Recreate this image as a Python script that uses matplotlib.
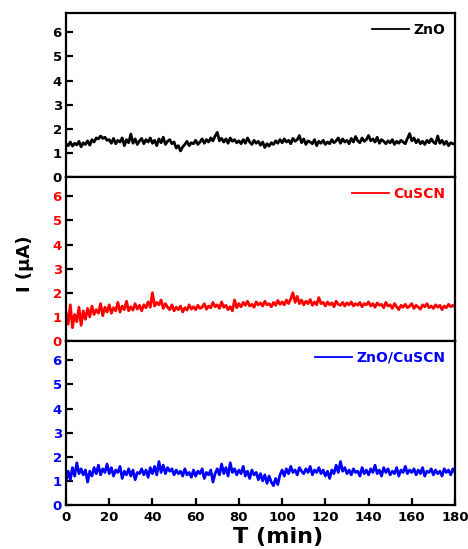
import numpy as np
import matplotlib
matplotlib.use("Agg")
import matplotlib.pyplot as plt

t_min = list(range(0, 181))

zno = [1.38, 1.30, 1.45, 1.28, 1.40, 1.33, 1.48, 1.25, 1.42, 1.35,
       1.50, 1.32, 1.55, 1.45, 1.62, 1.58, 1.70, 1.60, 1.65, 1.52,
       1.55, 1.40, 1.60, 1.38, 1.52, 1.45, 1.62, 1.30, 1.55, 1.42,
       1.78, 1.40, 1.58, 1.35, 1.50, 1.60, 1.38, 1.55, 1.45, 1.62,
       1.40, 1.52, 1.30, 1.58, 1.42, 1.65, 1.35, 1.48, 1.55, 1.38,
       1.45, 1.20, 1.30, 1.08, 1.25, 1.35, 1.48, 1.30, 1.42, 1.38,
       1.52, 1.35, 1.45, 1.58, 1.40, 1.55, 1.45, 1.62, 1.50, 1.70,
       1.85, 1.50, 1.60, 1.45, 1.58, 1.40, 1.62, 1.48, 1.55, 1.42,
       1.50, 1.38, 1.55, 1.40, 1.62, 1.45, 1.35, 1.52, 1.40, 1.48,
       1.32, 1.45, 1.22, 1.38, 1.28, 1.42, 1.35, 1.50, 1.40, 1.55,
       1.42, 1.58, 1.45, 1.52, 1.38, 1.60, 1.48, 1.55, 1.72, 1.42,
       1.58, 1.35, 1.50, 1.45, 1.38, 1.55, 1.30, 1.48, 1.40, 1.52,
       1.35, 1.45, 1.38, 1.55, 1.42, 1.50, 1.62, 1.40, 1.58, 1.45,
       1.52, 1.38, 1.60, 1.45, 1.68, 1.50, 1.42, 1.62, 1.48, 1.55,
       1.72, 1.50, 1.58, 1.45, 1.65, 1.40, 1.55, 1.48, 1.38, 1.50,
       1.42, 1.55, 1.35, 1.48, 1.40, 1.52, 1.45, 1.38, 1.60, 1.80,
       1.50, 1.62, 1.42, 1.55, 1.38, 1.48, 1.35, 1.52, 1.42, 1.58,
       1.45, 1.38, 1.70, 1.40, 1.52, 1.35, 1.48, 1.30, 1.42, 1.38,
       1.35]

cuscn = [1.20, 0.70, 1.50, 0.55, 1.10, 0.80, 1.40, 0.65, 1.25, 0.90,
         1.35, 1.00, 1.45, 1.10, 1.30, 1.15, 1.55, 1.05, 1.40, 1.20,
         1.50, 1.15, 1.38, 1.25, 1.60, 1.20, 1.45, 1.30, 1.65, 1.25,
         1.42, 1.28, 1.55, 1.32, 1.48, 1.25, 1.50, 1.38, 1.62, 1.40,
         2.00, 1.45, 1.60, 1.50, 1.70, 1.35, 1.55, 1.40, 1.30, 1.50,
         1.25, 1.40, 1.30, 1.45, 1.20, 1.38, 1.28, 1.50, 1.32, 1.42,
         1.30, 1.48, 1.35, 1.40, 1.55, 1.32, 1.45, 1.38, 1.60, 1.42,
         1.50, 1.35, 1.62, 1.40, 1.48, 1.30, 1.42, 1.25, 1.70, 1.38,
         1.55, 1.42, 1.60, 1.48, 1.65, 1.45, 1.52, 1.40, 1.62, 1.50,
         1.58, 1.45, 1.65, 1.50, 1.55, 1.42, 1.60, 1.48, 1.68, 1.52,
         1.62, 1.50, 1.70, 1.55, 1.75, 2.00, 1.60, 1.85, 1.55, 1.70,
         1.50, 1.65, 1.55, 1.72, 1.48, 1.62, 1.50, 1.80, 1.55, 1.60,
         1.45, 1.62, 1.50, 1.58, 1.42, 1.65, 1.52, 1.48, 1.60, 1.45,
         1.58, 1.50, 1.62, 1.45, 1.55, 1.48, 1.60, 1.42, 1.55, 1.50,
         1.62, 1.45, 1.55, 1.40, 1.58, 1.48, 1.52, 1.38, 1.60, 1.45,
         1.50, 1.35, 1.55, 1.42, 1.30, 1.48, 1.40, 1.52, 1.38, 1.45,
         1.55, 1.35, 1.48, 1.40, 1.32, 1.50, 1.42, 1.55, 1.38, 1.45,
         1.35, 1.50, 1.40, 1.48, 1.30, 1.45, 1.38, 1.52, 1.42, 1.48,
         1.40]

zno_cuscn = [1.00, 1.40, 1.05, 1.55, 1.20, 1.75, 1.30, 1.50, 1.25, 1.45,
             0.95, 1.40, 1.20, 1.55, 1.30, 1.65, 1.25, 1.50, 1.35, 1.70,
             1.30, 1.55, 1.20, 1.45, 1.35, 1.60, 1.10, 1.40, 1.25, 1.50,
             1.20, 1.45, 1.05, 1.35, 1.30, 1.50, 1.25, 1.45, 1.15, 1.55,
             1.30, 1.60, 1.25, 1.80, 1.35, 1.65, 1.30, 1.55, 1.40, 1.50,
             1.25, 1.45, 1.30, 1.40, 1.20, 1.50, 1.25, 1.35, 1.15, 1.45,
             1.20, 1.40, 1.30, 1.50, 1.10, 1.35, 1.25, 1.45, 0.95, 1.30,
             1.50, 1.25, 1.70, 1.30, 1.55, 1.20, 1.75, 1.35, 1.50, 1.25,
             1.45, 1.30, 1.60, 1.20, 1.40, 1.10, 1.45, 1.25, 1.35, 1.05,
             1.30, 1.00, 1.25, 0.90, 1.20, 0.95, 0.80, 1.10, 0.85, 1.25,
             1.45, 1.20, 1.50, 1.30, 1.60, 1.35, 1.45, 1.25, 1.55, 1.40,
             1.30, 1.50, 1.35, 1.60, 1.25, 1.45, 1.35, 1.55, 1.30, 1.45,
             1.20, 1.40, 1.10, 1.45, 1.30, 1.65, 1.35, 1.80, 1.40, 1.55,
             1.30, 1.45, 1.25, 1.50, 1.35, 1.40, 1.20, 1.55, 1.30, 1.45,
             1.25, 1.50, 1.35, 1.65, 1.30, 1.45, 1.20, 1.55, 1.35, 1.50,
             1.25, 1.40, 1.30, 1.55, 1.20, 1.45, 1.35, 1.60, 1.30, 1.45,
             1.35, 1.50, 1.25, 1.45, 1.30, 1.55, 1.20, 1.40, 1.35, 1.50,
             1.25, 1.45, 1.30, 1.40, 1.20, 1.50, 1.35, 1.45, 1.25, 1.50,
             1.35]

labels = ["ZnO", "CuSCN", "ZnO/CuSCN"]
colors = ["#000000", "#ff0000", "#0000ff"]
series = [zno, cuscn, zno_cuscn]
y_ticks = [0, 1, 2, 3, 4, 5, 6]
x_ticks = list(range(0, 181, 20))

plt.rcParams['font.family'] = ['DejaVu Sans']
plt.rcParams['font.weight'] = 'bold'

fig = plt.figure(figsize=(4.68, 5.49), dpi=100)
left, right = 66 / 468, 455 / 468
top, bottom = 1 - 13 / 549, 1 - 505 / 549
h = (top - bottom) / 3

for i, (lab, col, ys) in enumerate(zip(labels, colors, series)):
    ax = fig.add_axes([left, top - (i + 1) * h, right - left, h])
    ax.plot(t_min, ys, color=col, lw=2.0, label=lab)
    ax.set_xlim(0, 180)
    ax.set_ylim(0, 6.8)
    ax.set_yticks(y_ticks)
    for s in ax.spines.values():
        s.set_linewidth(1.6)
    ax.tick_params(axis='y', direction='in', length=5, width=1.6,
                   labelsize=9.5, labelcolor=col, pad=3)
    if i < 2:
        ax.tick_params(axis='x', bottom=False, labelbottom=False)
    else:
        ax.set_xticks(x_ticks)
        ax.tick_params(axis='x', direction='in', length=5, width=1.6,
                       labelsize=9.5, pad=4)
    for tl in ax.get_yticklabels() + ax.get_xticklabels():
        tl.set_fontweight('bold')
    leg = ax.legend(loc='upper right', frameon=False, handlelength=2.7,
                    handletextpad=0.3, borderaxespad=0.3,
                    prop={'weight': 'bold', 'size': 10})
    for line in leg.get_lines():
        line.set_linewidth(1.3)
    for txt in leg.get_texts():
        txt.set_color(col)

fig.text(25 / 468, 1 - 264 / 549, "I (\u03bcA)", rotation=90, ha='center',
         va='center', fontsize=13, fontweight='bold')
fig.text(278 / 468, 1 - 537 / 549, "T (min)", ha='center', va='center',
         fontsize=16, fontweight='bold')

fig.savefig("out.png", dpi=100)
